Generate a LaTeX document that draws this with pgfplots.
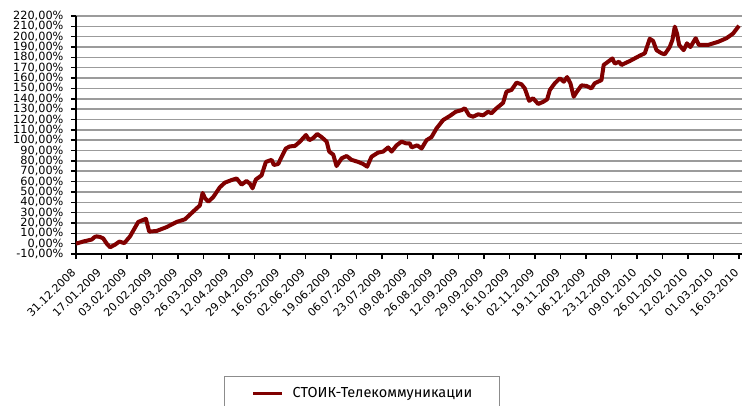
\documentclass[border=0pt]{standalone}
\usepackage{fontspec}
\setmainfont{DejaVu Sans}
\newfontfamily\legfont{Fira Sans}
\usepackage{pgfplots}
\pgfplotsset{compat=1.18}
\usepackage{pgfplotstable}
\definecolor{series}{RGB}{128,0,0}
\definecolor{gridc}{RGB}{155,155,155}
\definecolor{legframe}{RGB}{140,140,140}
\pgfplotstableread{
day val
0 0
4.7 2
10.5 4
12.5 6.5
13.8 7
16.0 6.5
18.2 5
20.5 0
22.7 -3.5
26.0 -1
28.9 2
32.2 0.5
36.0 7
41.5 21
46.6 24
48.8 11.6
53.8 12.3
60.4 16
67.1 21
72.6 23.5
79.3 32.6
82.6 37
84.4 49
86.0 44
88.2 40.6
91.5 45
95.9 54.5
99.3 59
103.8 61.5
107.1 63
110.4 57
113.7 60.6
115.9 58
117.7 53.5
119.9 62
123.7 66
126.6 79
130.4 81
131.9 76
134.8 77
137.1 84
139.9 92
142.6 94
145.9 94.4
149.3 98.6
153.3 105
155.5 100
158.1 102
160.8 106
163.7 103
167.1 98.6
168.8 89
171.5 86
173.7 75
177.1 82.5
180.4 84.7
183.7 81
188.1 79
191.4 77
194.1 74.4
197.0 84
201.4 88
204.8 89
208.1 93
210.4 89
213.7 95
217.0 98.6
219.9 97
222.5 97
223.7 93
227.4 95
230.4 92
233.7 100
237.0 103
240.4 111.5
244.8 119.5
249.2 123.4
253.2 127.5
257.0 129
259.2 130.8
262.1 124
264.7 122.7
268.1 125
271.4 124
274.7 127.5
277.0 126
280.3 130.8
284.7 136
287.0 147
290.3 148.5
293.7 155.6
297.0 154
299.2 150
302.1 138
304.7 140.5
308.1 135
311.4 137
314.1 139.5
315.9 148.5
319.2 155
322.6 159.8
325.2 156.5
327.4 161
329.6 155
331.8 142
334.0 147
337.0 153
340.3 152.4
343.6 150
345.8 155
348.0 156.5
350.3 158
351.8 172.7
354.7 175.8
357.6 179
359.2 174
362.0 175.8
363.6 172.7
369.2 176.5
375.8 181.6
379.2 184
382.5 198
384.7 196
387.0 187
390.3 184
392.5 183
395.8 190
397.6 196.8
399.2 209.7
400.7 203
402.1 192
405.1 187
407.3 193.6
409.6 190
413.1 198.5
415.3 192
421.3 192
428.0 195
433.6 198.5
438.0 203
442.0 210.6
}\datatable
\begin{document}
\begin{tikzpicture}[x=1pt,y=1pt]
\useasboundingbox (-76,-151) rectangle (666,254);
\begin{axis}[
  at={(0,0)}, anchor=south west,
  scale only axis, width=666pt, height=238pt,
  xmin=0, xmax=444, ymin=-10, ymax=220,
  axis lines*=left,
  axis line style={-, line width=1.5pt, black},
  tick align=outside,
  major tick length=5pt,
  tick style={line width=1.5pt, black},
  ytick={-10,0,...,220},
  xtick={0,17,...,442},
  xticklabels={31.12.2008,17.01.2009,03.02.2009,20.02.2009,09.03.2009,26.03.2009,12.04.2009,29.04.2009,16.05.2009,02.06.2009,19.06.2009,06.07.2009,23.07.2009,09.08.2009,26.08.2009,12.09.2009,29.09.2009,16.10.2009,02.11.2009,19.11.2009,06.12.2009,23.12.2009,09.01.2010,26.01.2010,12.02.2010,01.03.2010,16.03.2010},
  xticklabel style={yshift=-9pt, rotate=45, anchor=east, font=\fontsize{11}{12}\selectfont},
  yticklabel style={font=\fontsize{11.3}{12}\selectfont, xshift=-4pt,
    /pgf/number format/.cd, fixed, fixed zerofill, precision=2, use comma, assume math mode=true},
  yticklabel={\pgfmathprintnumber{\tick}\%},
  ymajorgrids,
  major grid style={gridc, line width=1.5pt},
  legend style={at={(0.4294,-0.5126)}, anchor=north, draw=legframe, line width=1.2pt,
    inner xsep=27pt, inner ysep=11pt, column sep=9pt,
    nodes={inner sep=0pt},
    font=\legfont\fontsize{14.5}{17}\selectfont},
  legend image code/.code={\draw[#1, line width=3pt] (0pt,0pt) -- (29pt,0pt);},
]
\addplot[series, line width=4pt, line join=round] table[x=day, y=val] {\datatable};
\addlegendentry{СТОИК-Телекоммуникации}
\end{axis}
\end{tikzpicture}
\end{document}
